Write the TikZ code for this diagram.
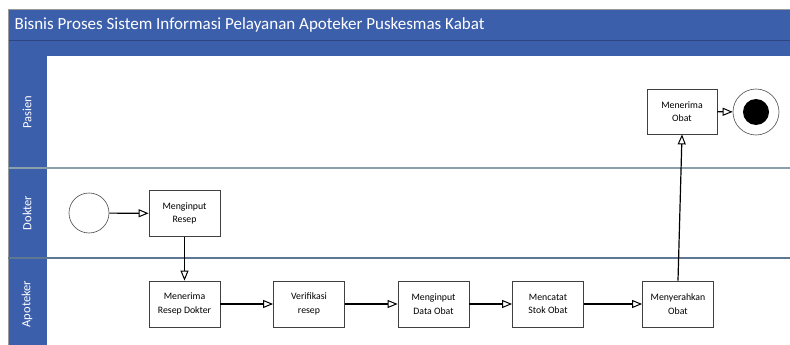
\documentclass[tikz,border=0pt]{standalone}
\usepackage{fontspec}
\setmainfont{Carlito}
\usetikzlibrary{arrows.meta}
\definecolor{laneblue}{RGB}{60,95,172}
\definecolor{darkline}{RGB}{45,70,130}
\definecolor{divA}{RGB}{140,160,172}
\definecolor{divB}{RGB}{95,120,145}
\tikzset{
  x=1pt,y=-1pt,
  task/.style={draw=black!75,line width=0.8pt,fill=white,minimum width=71pt,minimum height=46pt,
    inner sep=1pt,align=center,font=\fontsize{9.8}{13.5}\selectfont},
  flow/.style={line width=1.2pt,-{Triangle[open,length=10pt,width=8pt,line width=1pt]}},
  lanelabel/.style={rotate=90,text=white,font=\fontsize{12.5}{14}\selectfont},
}
\begin{document}
\begin{tikzpicture}
\useasboundingbox (0,0) rectangle (790,345);
\fill[white] (0,0) rectangle (790,345);
% pool
\fill[laneblue] (8,9.5) rectangle (790,56);
\draw[darkline,line width=0.8pt] (8,40) -- (790,40);
\fill[laneblue] (8,56) rectangle (46.5,345);
\draw[black!40,line width=0.5pt] (8,9.5) -- (790,9.5);
\draw[black!40,line width=0.5pt] (8,9.5) -- (8,345);
\node[anchor=west,text=white,font=\fontsize{17}{19}\selectfont] (title) at (11,25) {Bisnis Proses Sistem Informasi Pelayanan Apoteker Puskesmas Kabat};
% lane dividers
\draw[divA,line width=1.2pt] (8,168) -- (790,168);
\draw[divB,line width=1.2pt] (8,258) -- (790,258);
\node[lanelabel] (lp) at (27,112) {Pasien};
\node[lanelabel] (ld) at (27,213) {Dokter};
\node[lanelabel] (la) at (27,304) {Apoteker};
% nodes
\node[circle,draw=black!70,line width=0.6pt,minimum size=40pt,inner sep=0pt] (start) at (89,213) {};
\node[task] (t1) at (184.5,213.5) {Menginput\\Resep};
\node[task] (t2) at (184.5,304) {Menerima\\Resep Dokter};
\node[task] (t3) at (309,304) {Verifikasi\\resep};
\node[task] (t4) at (433.5,304) {Menginput\\Data Obat};
\node[task] (t5) at (548,304) {Mencatat\\Stok Obat};
\node[task] (t6) at (678,304) {Menyerahkan\\Obat};
\node[task,minimum width=70pt,minimum height=45pt] (t7) at (682,111.5) {Menerima\\Obat};
\node[circle,draw=black!70,line width=0.6pt,fill=white,minimum size=46pt,inner sep=0pt] (end) at (756,112) {};
\fill[black] (end.center) circle (13pt);
% flows
\draw[flow] (start) -- (t1);
\draw[flow] (t1) -- (t2);
\draw[flow] (t2) -- (t3);
\draw[flow] (t3) -- (t4);
\draw[flow] (t4) -- (t5);
\draw[flow] (t5) -- (t6);
\draw[flow] (t6.north) -- (t7.south);
\draw[flow] (t7) -- (end);
\end{tikzpicture}
\end{document}
